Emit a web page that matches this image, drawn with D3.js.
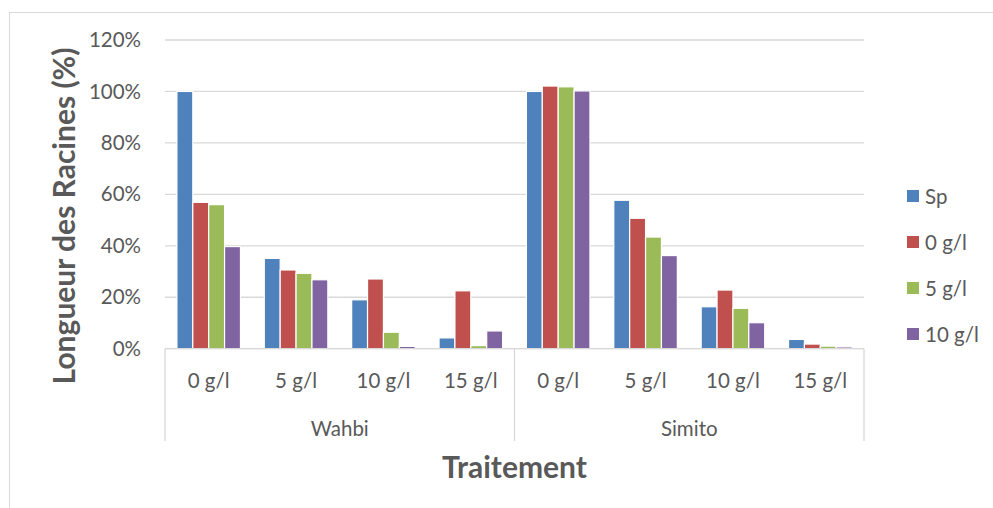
<!DOCTYPE html>
<html>
<head>
<meta charset="utf-8">
<script src="https://cdn.jsdelivr.net/npm/d3@7"></script>
<style>
  html, body { margin: 0; padding: 0; background: #fff; }
  svg { display: block; font-family: Lato, "Open Sans", sans-serif; }
</style>
</head>
<body>
<svg id="chart" width="993" height="508"></svg>
<script>
// Root length (% of control) per variety and salt dose
const varieties = ["Wahbi", "Simito"];
const doses = ["0 g/l", "5 g/l", "10 g/l", "15 g/l"];
const seriesNames = ["Sp", "0 g/l", "5 g/l", "10 g/l"];
const seriesColors = ["#4F81BD", "#C0504D", "#9BBB59", "#8064A2"];

// values in order: Wahbi 0,5,10,15 then Simito 0,5,10,15
const valuesSp  = [100, 35.1, 19.0, 4.2, 100, 57.7, 16.3, 3.6];
const values0   = [56.9, 30.6, 27.1, 22.5, 102.1, 50.7, 22.8, 1.8];
const values5   = [56.0, 29.3, 6.4, 1.2, 101.8, 43.4, 15.7, 1.0];
const values10  = [39.7, 26.8, 0.9, 6.9, 100.2, 36.2, 10.1, 0.7];

const yTicks = [0, 20, 40, 60, 80, 100, 120];

const seriesValues = [valuesSp, values0, values5, values10];
const categories = [];
varieties.forEach(v => doses.forEach(d => categories.push({ key: v + "|" + d, variety: v, dose: d })));

const svg = d3.select("#chart");
const textColor = "#595959";
const gridColor = "#d9d9d9";
const labelSize = "20.5px";
const titleSize = "30px";

const plot = { left: 165, right: 864, top: 40, bottom: 348.7 };

// chart frame
svg.append("rect")
  .attr("x", 9.5).attr("y", 12.5)
  .attr("width", 1000).attr("height", 600)
  .attr("fill", "none").attr("stroke", gridColor).attr("stroke-width", 1);

const x0 = d3.scaleBand()
  .domain(categories.map(c => c.key))
  .range([plot.left, plot.right])
  .padding(0);

const x1 = d3.scaleBand()
  .domain(seriesNames)
  .range([0, x0.bandwidth()])
  .paddingInner(0)
  .paddingOuter(0.75);

const y = d3.scaleLinear().domain([0, 120]).range([plot.bottom, plot.top]);

// gridlines
svg.append("g")
  .selectAll("line")
  .data(yTicks)
  .join("line")
  .attr("x1", plot.left).attr("x2", plot.right)
  .attr("y1", d => y(d)).attr("y2", d => y(d))
  .attr("stroke", gridColor).attr("stroke-width", 1.3);

// y axis labels
const yAxis = d3.axisLeft(y).tickValues(yTicks).tickFormat(d => d + "%").tickSize(0).tickPadding(24);
const yg = svg.append("g").attr("transform", `translate(${plot.left},0)`).call(yAxis);
yg.select(".domain").remove();
yg.selectAll("text").attr("fill", textColor).style("font-size", labelSize).style("font-family", "Lato, sans-serif");

// bars
const groups = svg.append("g")
  .selectAll("g")
  .data(seriesNames.map((s, i) => ({ name: s, color: seriesColors[i], values: seriesValues[i] })))
  .join("g")
  .attr("fill", d => d.color);

groups.selectAll("rect")
  .data(d => d.values.map((v, i) => ({ v, cat: categories[i].key, name: d.name })))
  .join("rect")
  .attr("x", d => x0(d.cat) + x1(d.name))
  .attr("width", x1.bandwidth())
  .attr("y", d => y(d.v))
  .attr("height", d => y(0) - y(d.v))
  .attr("stroke", "#fff")
  .attr("stroke-width", 1.2);

// category axis: baseline and variety separators
const axisG = svg.append("g");
axisG.append("line")
  .attr("x1", plot.left).attr("x2", plot.right)
  .attr("y1", y(0)).attr("y2", y(0))
  .attr("stroke", gridColor).attr("stroke-width", 1.3);

const groupEdges = [plot.left, x0(categories[doses.length].key), plot.right];
axisG.selectAll("line.sep")
  .data(groupEdges)
  .join("line")
  .attr("class", "sep")
  .attr("x1", d => d).attr("x2", d => d)
  .attr("y1", y(0)).attr("y2", 441)
  .attr("stroke", gridColor).attr("stroke-width", 1.3);

axisG.selectAll("text.dose")
  .data(categories)
  .join("text")
  .attr("class", "dose")
  .attr("x", d => x0(d.key) + x0.bandwidth() / 2)
  .attr("y", 388)
  .attr("text-anchor", "middle")
  .attr("fill", textColor)
  .style("font-size", labelSize)
  .text(d => d.dose);

axisG.selectAll("text.variety")
  .data(varieties)
  .join("text")
  .attr("class", "variety")
  .attr("x", (d, i) => (groupEdges[i] + groupEdges[i + 1]) / 2)
  .attr("y", 436)
  .attr("text-anchor", "middle")
  .attr("fill", textColor)
  .style("font-size", labelSize)
  .text(d => d);

// axis titles
svg.append("text")
  .attr("x", (plot.left + plot.right) / 2)
  .attr("y", 478)
  .attr("text-anchor", "middle")
  .attr("fill", textColor)
  .style("font-size", titleSize)
  .style("font-weight", "bold")
  .text("Traitement");

svg.append("text")
  .attr("transform", "translate(75,216) rotate(-90)")
  .attr("text-anchor", "middle")
  .attr("fill", textColor)
  .style("font-size", titleSize)
  .style("font-weight", "bold")
  .text("Longueur des Racines (%)");

// legend
const legend = svg.append("g")
  .selectAll("g")
  .data(seriesNames.map((s, i) => ({ name: s, color: seriesColors[i] })))
  .join("g")
  .attr("transform", (d, i) => `translate(907,${196 + i * 46})`);

legend.append("rect")
  .attr("x", 0).attr("y", -6)
  .attr("width", 12).attr("height", 12)
  .attr("fill", d => d.color);

legend.append("text")
  .attr("x", 18).attr("y", 7.5)
  .attr("fill", textColor)
  .style("font-size", labelSize)
  .text(d => d.name);
</script>
</body>
</html>
